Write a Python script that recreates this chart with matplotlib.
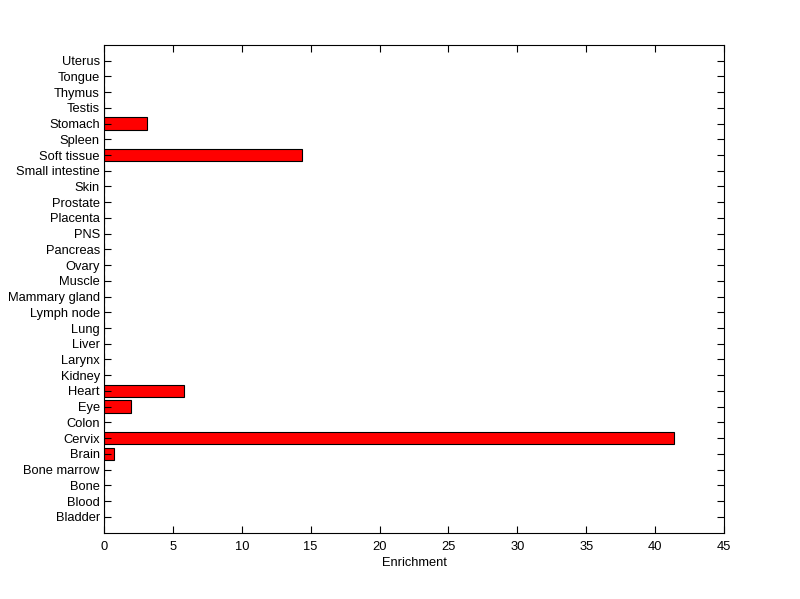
import matplotlib
matplotlib.use("Agg")
import matplotlib.pyplot as plt

categories = ["Bladder", "Blood", "Bone", "Bone marrow", "Brain", "Cervix", "Colon", "Eye",
              "Heart", "Kidney", "Larynx", "Liver", "Lung", "Lymph node", "Mammary gland",
              "Muscle", "Ovary", "Pancreas", "PNS", "Placenta", "Prostate", "Skin",
              "Small intestine", "Soft tissue", "Spleen", "Stomach", "Testis", "Thymus",
              "Tongue", "Uterus"]
values = [0, 0, 0, 0, 0.75, 41.35, 0, 1.99,
          5.8, 0, 0, 0, 0, 0, 0,
          0, 0, 0, 0, 0, 0, 0,
          0, 14.37, 0, 3.15, 0, 0,
          0, 0]
xticks = [0, 5, 10, 15, 20, 25, 30, 35, 40, 45]

plt.rcParams['font.family'] = ['Liberation Sans', 'DejaVu Sans']
fig = plt.figure(figsize=(8, 5.99), dpi=100)
ax = fig.add_axes([0.13, 0.111, 0.775, 0.814])
pos = list(range(1, len(categories) + 1))
ax.barh(pos, values, height=0.8, color='#ff0000', edgecolor='black', linewidth=0.8)
ax.set_ylim(0, len(categories) + 1)
ax.set_xlim(0, 45)
ax.set_xticks(xticks)
ax.set_yticks(pos)
ax.set_yticklabels(categories)
ax.tick_params(direction='in', top=True, right=True, length=5, width=0.8, labelsize=9.3)
ax.tick_params(axis='x', pad=6)
ax.tick_params(axis='y', pad=3)
for s in ax.spines.values():
    s.set_linewidth(0.8)
ax.set_xlabel("Enrichment", fontsize=9.3, labelpad=3)
fig.savefig("out.png", dpi=100)
